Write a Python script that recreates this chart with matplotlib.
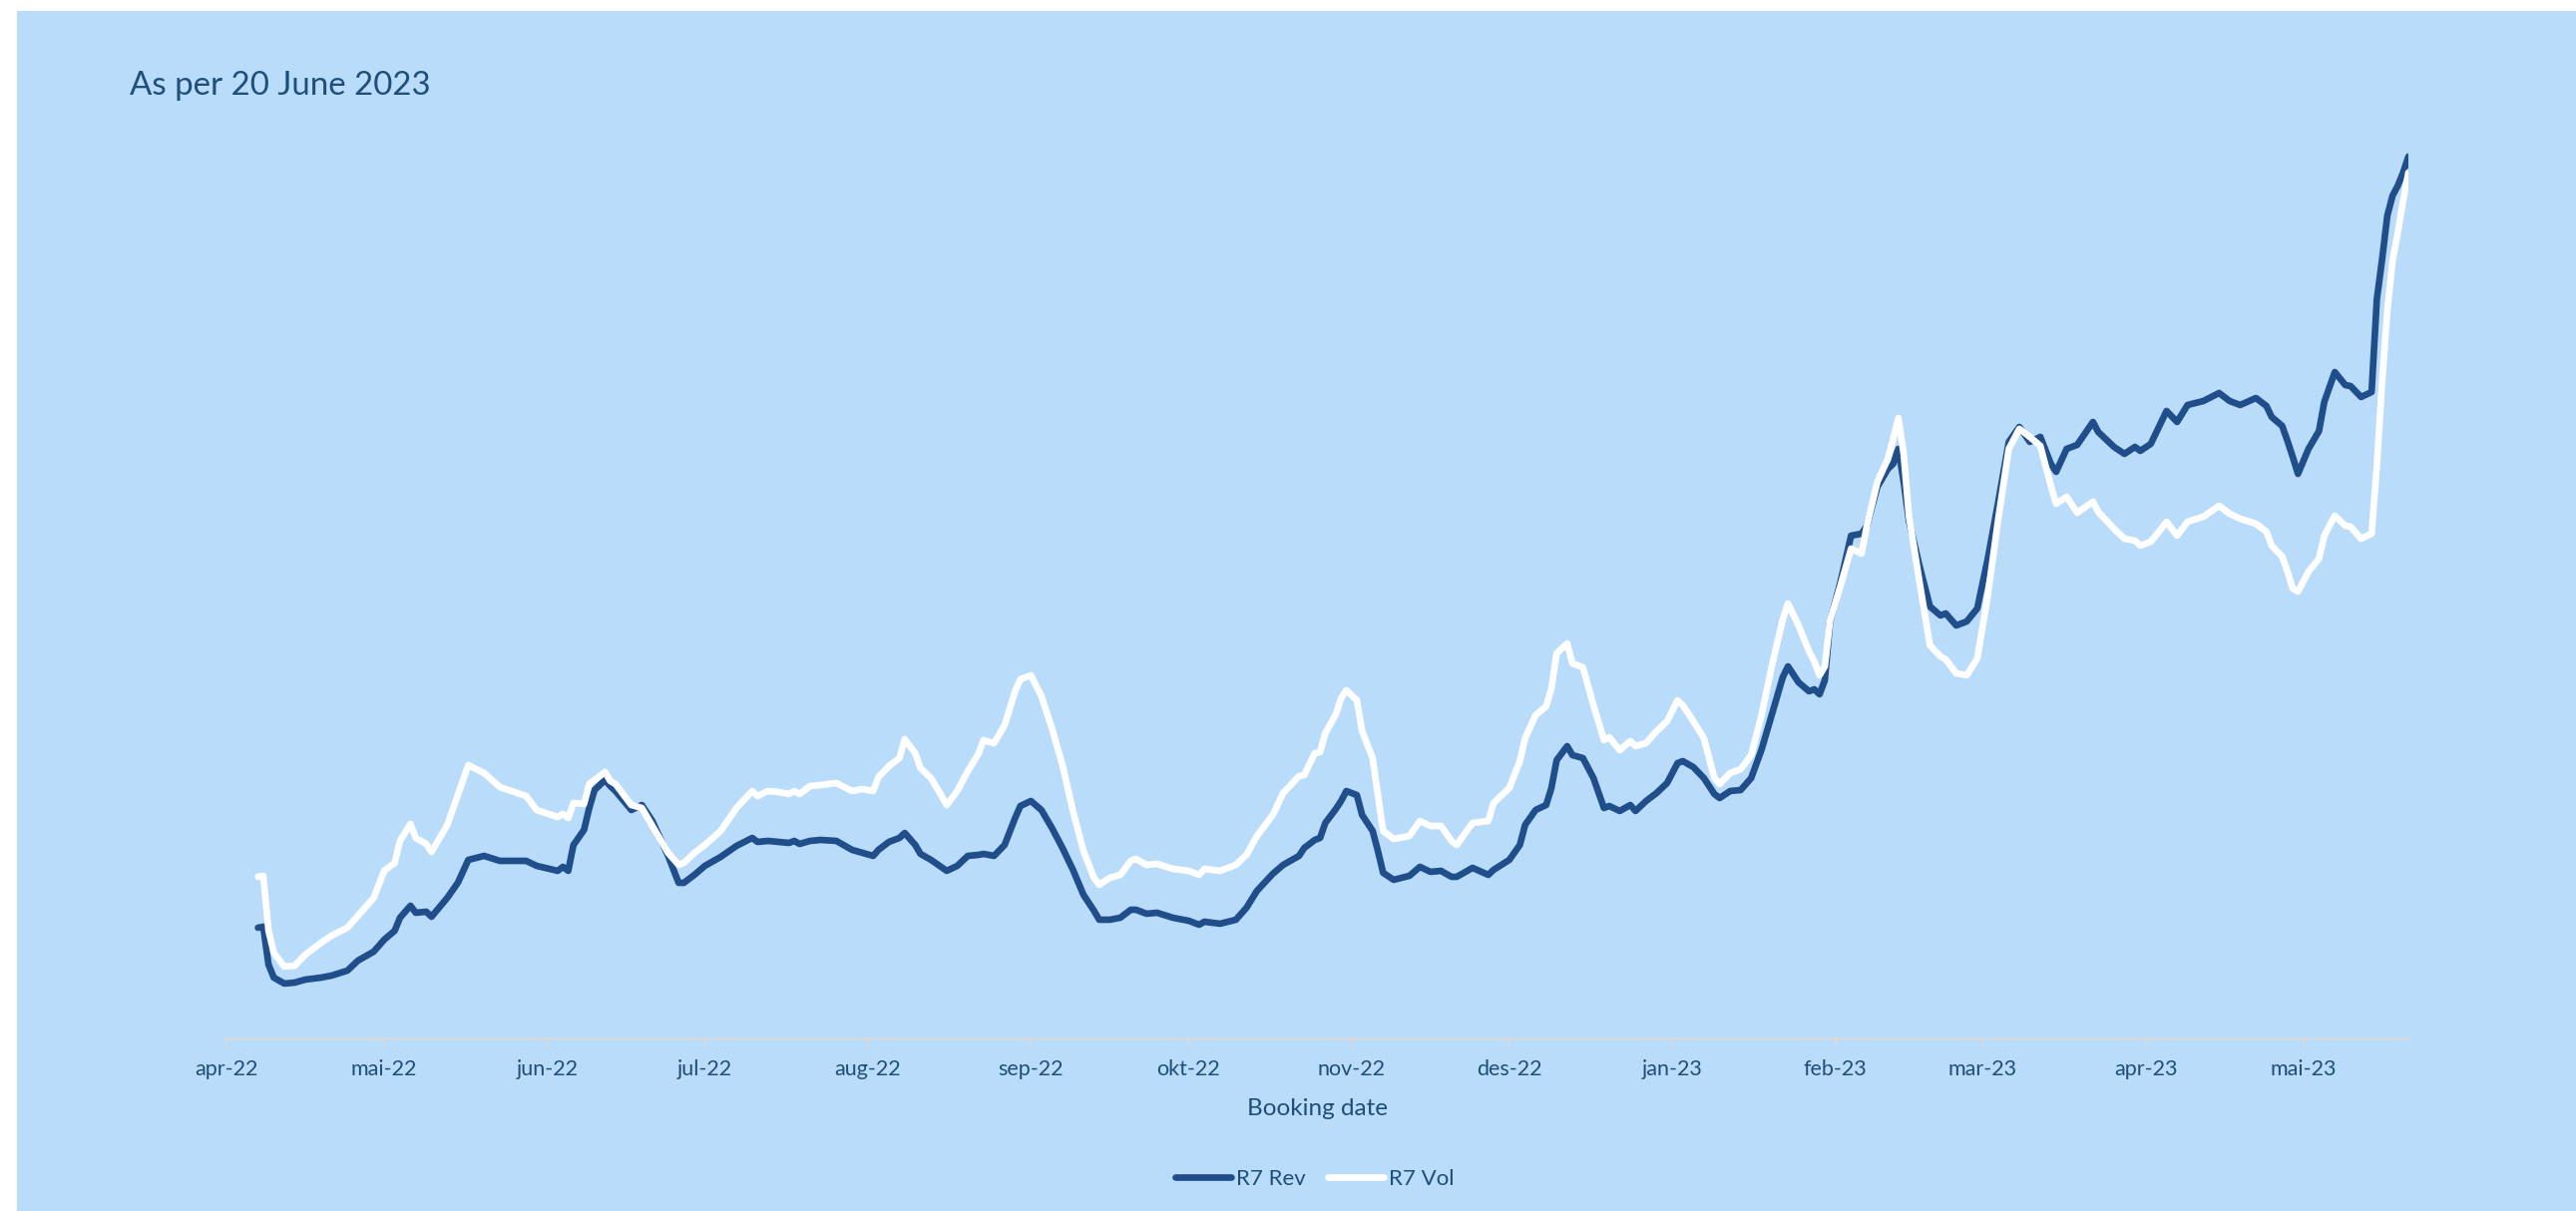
import numpy as np
import matplotlib
matplotlib.use("Agg")
import matplotlib.pyplot as plt
from matplotlib.patches import Rectangle

plt.rcParams["font.family"] = ["Lato", "DejaVu Sans"]

START = np.datetime64("2022-04-01")

# booking day, counted from 1 April 2022
days = [6, 7, 8, 9, 11, 13, 15, 18, 20, 23, 25, 28, 30, 32, 33, 35, 36, 38, 39, 42,
        44, 46, 49, 52, 57, 59, 63, 64, 65, 66, 68, 69, 70, 72, 73, 74, 77, 79, 81, 84,
        86, 87, 89, 91, 94, 97, 100, 101, 103, 105, 107, 108, 109, 111, 113, 116, 119, 121, 123, 124,
        126, 128, 129, 131, 132, 134, 137, 139, 141, 143, 144, 146, 148, 150, 151, 153, 155, 157, 159, 161,
        163, 165, 166, 168, 170, 172, 173, 175, 177, 180, 183, 185, 186, 189, 192, 194, 196, 199, 201, 204,
        205, 207, 208, 209, 211, 212, 213, 215, 216, 218, 219, 220, 222, 225, 227, 229, 231, 233, 234, 237,
        240, 241, 244, 246, 247, 249, 251, 252, 253, 255, 256, 258, 260, 262, 263, 265, 267, 268, 270, 272,
        274, 276, 277, 279, 281, 283, 284, 286, 288, 290, 292, 294, 296, 297, 299, 301, 302, 303, 304, 305,
        307, 309, 311, 312, 314, 316, 317, 318, 319, 320, 322, 324, 326, 327, 329, 331, 333, 335, 337, 339,
        341, 343, 345, 347, 348, 350, 352, 355, 356, 359, 361, 363, 364, 366, 368, 369, 371, 373, 376, 379,
        381, 383, 386, 388, 389, 391, 392, 393, 394, 396, 398, 399, 401, 403, 404, 406, 408, 409, 410, 411,
        412, 413, 414, 415]

r7_rev = [111, 112, 74, 61, 55, 56, 59, 61, 63, 68, 78, 87, 99, 108, 121, 133, 126, 127, 122, 141,
          156, 179, 183, 178, 178, 173, 168, 172, 168, 194, 209, 231, 249, 259, 253, 248, 229, 234, 218, 183,
          156, 156, 164, 173, 182, 193, 201, 197, 198, 197, 196, 198, 195, 198, 199, 198, 189, 186, 183, 189,
          197, 201, 206, 194, 185, 179, 168, 173, 183, 184, 185, 183, 194, 221, 233, 238, 229, 211, 191, 169,
          144, 128, 119, 119, 121, 129, 129, 125, 126, 121, 118, 114, 117, 115, 119, 131, 148, 165, 174, 183,
          191, 199, 201, 216, 230, 238, 248, 244, 224, 208, 188, 166, 159, 163, 172, 167, 168, 162, 162, 171,
          164, 169, 179, 194, 214, 229, 234, 251, 279, 293, 284, 281, 261, 231, 233, 228, 234, 228, 238, 246,
          256, 276, 278, 272, 261, 245, 241, 248, 249, 261, 290, 326, 362, 373, 357, 348, 350, 345, 359, 418,
          458, 504, 506, 514, 553, 571, 576, 591, 558, 519, 474, 433, 424, 426, 414, 418, 431, 481, 538, 598,
          613, 598, 603, 576, 568, 591, 595, 618, 608, 593, 586, 593, 589, 596, 618, 629, 618, 635, 639, 647,
          639, 635, 642, 634, 623, 614, 599, 583, 566, 591, 609, 638, 668, 655, 654, 643, 648, 741, 781, 825,
          845, 855, 868, 884]

r7_vol = [162, 163, 108, 86, 72, 73, 84, 96, 103, 111, 123, 141, 168, 176, 198, 215, 201, 195, 187, 214,
          244, 274, 266, 252, 243, 229, 222, 225, 221, 236, 235, 255, 259, 267, 258, 255, 234, 231, 213, 186,
          174, 176, 186, 194, 208, 231, 248, 243, 248, 247, 245, 248, 245, 253, 254, 256, 248, 250, 248, 262,
          273, 281, 300, 286, 271, 261, 234, 248, 268, 285, 299, 296, 314, 348, 360, 364, 343, 311, 274, 228,
          188, 161, 154, 161, 164, 178, 180, 174, 175, 170, 168, 164, 170, 168, 174, 184, 203, 224, 246, 263,
          264, 286, 287, 306, 325, 341, 349, 339, 308, 281, 244, 208, 200, 203, 218, 213, 213, 198, 194, 216,
          218, 236, 251, 278, 301, 324, 333, 351, 386, 396, 376, 372, 334, 299, 302, 289, 298, 293, 296, 308,
          318, 339, 334, 318, 301, 261, 255, 266, 270, 284, 325, 375, 420, 436, 414, 388, 378, 364, 373, 419,
          454, 491, 486, 514, 558, 581, 601, 622, 586, 524, 458, 394, 383, 380, 366, 364, 381, 444, 521, 591,
          611, 603, 594, 554, 536, 543, 527, 538, 528, 511, 501, 499, 494, 498, 511, 518, 504, 518, 523, 534,
          526, 521, 516, 508, 494, 483, 468, 451, 448, 468, 481, 504, 524, 514, 513, 501, 506, 574, 658, 730,
          780, 808, 840, 868]

month_starts = ["2022-04-01", "2022-05-01", "2022-06-01", "2022-07-01", "2022-08-01",
                "2022-09-01", "2022-10-01", "2022-11-01", "2022-12-01", "2023-01-01",
                "2023-02-01", "2023-03-01", "2023-04-01", "2023-05-01"]
month_labels = ["apr-22", "mai-22", "jun-22", "jul-22", "aug-22", "sep-22", "okt-22",
                "nov-22", "des-22", "jan-23", "feb-23", "mar-23", "apr-23", "mai-23"]

BG = "#BADCFB"
NAVY = "#1F4E8A"
TEXT = "#1F4E79"
AXIS_GREY = "#D9D9D9"

W, H = 2582, 1214


def booking_chart(fname="out.png"):
    fig = plt.figure(figsize=(W / 100, H / 100), dpi=100, facecolor="white")
    fig.add_artist(Rectangle((17 / W, 0), 1 - 17 / W, 1 - 11 / H,
                             transform=fig.transFigure, facecolor=BG,
                             edgecolor="none", zorder=-10))

    ax = fig.add_axes([227 / W, 173 / H, (2414 - 227) / W, 900 / H])
    ax.set_facecolor("none")

    dates = START + np.array(days).astype("timedelta64[D]")
    rev_line, = ax.plot(dates, r7_rev, color=NAVY, lw=4.8,
                        solid_joinstyle="round", solid_capstyle="round", label="R7 Rev")
    vol_line, = ax.plot(dates, r7_vol, color="white", lw=4.8,
                        solid_joinstyle="round", solid_capstyle="round", label="R7 Vol")

    ax.set_xlim(START, START + np.timedelta64(415, "D"))
    ax.set_ylim(0, 900)

    for side in ("top", "left", "right"):
        ax.spines[side].set_visible(False)
    ax.spines["bottom"].set_color(AXIS_GREY)
    ax.spines["bottom"].set_linewidth(1.6)

    ax.set_yticks([])
    ax.set_xticks(np.array(month_starts, dtype="datetime64[D]"))
    ax.set_xticklabels(month_labels)
    ax.tick_params(axis="x", direction="out", length=6, width=1.6, color=AXIS_GREY,
                   labelcolor=TEXT, labelsize=15.5, pad=9)

    fig.text(130 / W, 1 - 95 / H, "As per 20 June 2023", fontsize=23.8,
             color=TEXT, ha="left", va="baseline")
    fig.text(1320 / W, 1 - 1111 / H, "Booking date", fontsize=17.5,
             color=TEXT, ha="center", va="center")

    fig.legend(handles=[rev_line, vol_line], loc="center",
               bbox_to_anchor=(1318 / W, 1 - 1182 / H), ncol=2, frameon=False,
               fontsize=16, labelcolor=TEXT, handlelength=2.5,
               handletextpad=0.25, columnspacing=1.0)

    fig.savefig(fname, dpi=100, facecolor="white")


booking_chart()
